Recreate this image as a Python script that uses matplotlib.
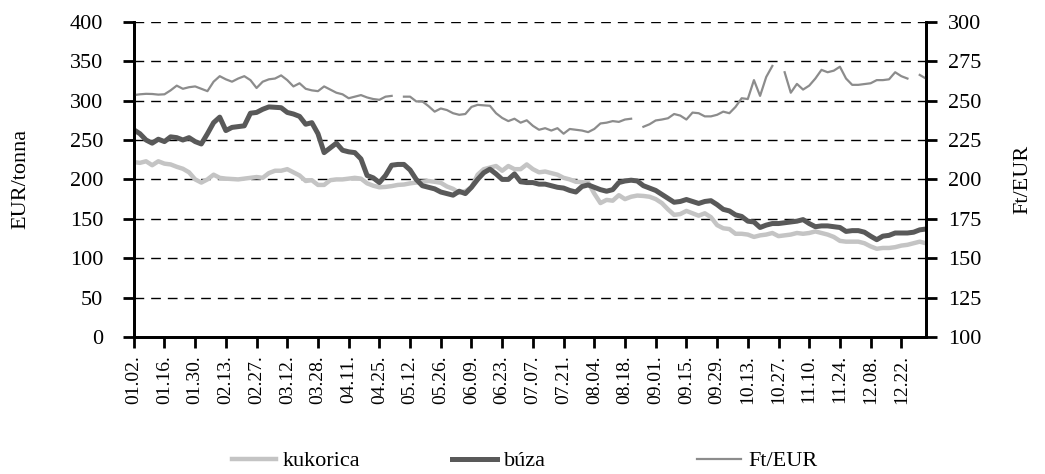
import numpy as np
import matplotlib.pyplot as plt

plt.rcParams['font.family'] = ['Liberation Serif', 'DejaVu Serif']

# tick labels every 10 trading days
tick_labels = ['01.02.', '01.16.', '01.30.', '02.13.', '02.27.', '03.12.', '03.28.',
               '04.11.', '04.25.', '05.12.', '05.26.', '06.09.', '06.23.', '07.07.',
               '07.21.', '08.04.', '08.18.', '09.01.', '09.15.', '09.29.', '10.13.',
               '10.27.', '11.10.', '11.24.', '12.08.', '12.22.']
n_days = 259

# EUR/tonna, read every 2nd trading day
kukorica = [222, 221, 223, 218, 223, 220, 219, 216, 213.5, 209,
            200, 196, 200, 206, 202, 201, 200.5, 200, 201, 202,
            203, 202, 208, 211, 211, 213, 209, 205, 198, 199,
            193, 193, 199, 200, 200, 201, 202, 201, 195, 192,
            190, 190.5, 191.5, 193, 193.5, 195, 196, 197, 198, 197,
            195.7, 191, 188, 183, 185, 190, 206, 213, 215, 217,
            211, 217, 213, 213, 219, 213, 209, 210, 208, 206,
            202, 200, 197, 196.5, 196, 182, 170, 174, 173, 180,
            175, 178, 179.5, 179, 178, 175, 170, 162, 155, 156,
            160, 157, 154, 157, 152, 142, 138, 137, 131, 131,
            130, 127, 129, 130, 132, 128, 129, 130, 132, 131,
            132, 134, 132, 130, 127, 122, 121, 121, 121, 119,
            115, 112, 113, 113, 114, 116, 117, 119, 121, 119]

buza = [263, 258, 250, 246, 251, 248, 254, 253, 250, 253,
        248, 245, 258, 272, 279, 262, 266, 267, 268, 284,
        285, 289, 292, 291.5, 291, 285, 283, 280, 270, 272,
        258, 234, 240, 246, 237, 235, 234, 226, 205, 202,
        196, 205, 218, 219, 219, 212, 200, 192, 190, 188,
        184, 182, 180, 185, 182, 190, 200, 208.5, 213, 207,
        200, 200, 207, 197, 196, 196, 194, 194, 192, 190,
        189, 186, 184, 191, 193, 190, 187, 185, 187, 196,
        198, 199, 198, 192, 189, 186, 181, 176, 171, 172,
        174.5, 172, 169.5, 172, 173, 168, 162, 160, 155, 153,
        147, 146, 139, 142, 144, 144, 145, 146, 147, 149,
        144, 140, 141, 141, 140, 139, 134, 135, 135, 133,
        128, 123.5, 128, 129, 132, 132, 132, 133, 136, 137]

# Ft/EUR (right axis), nan where the series has no quote
ft_eur = [253.5, 254, 254.3, 254.2, 253.8, 254, 256.5, 259.5, 257.5, 258.5,
          259, 257.5, 256, 262, 265.5, 263.5, 262, 264, 265.5, 263,
          258, 262, 263.5, 264, 266, 263, 259, 261, 257.5, 256.5,
          256, 259, 257, 255, 254, 251.5, 252.5, 253.5, 252, 251,
          250.5, 252.5, 253, np.nan, 252.5, 252.5, 249.5, 249.5, 246.5, 243,
          245, 244, 242, 241, 241.5, 246, 247.3, 247, 246.7, 242,
          239, 237, 238.5, 236, 237.5, 234, 231.5, 232.5, 231, 232.5,
          229, 232, 231.5, 231, 230, 232, 235.5, 236, 237, 236.5,
          238, 238.5, np.nan, 233.4, 235, 237.4, 238, 238.8, 241.5, 240.5,
          238, 242.4, 242, 240, 240, 241, 243, 242, 246, 251.5,
          251, 263, 253, 265, 272, np.nan, 268, 255, 260.6, 257,
          259.5, 264, 269.5, 268, 269, 271.5, 264, 260, 260, 260.5,
          261, 263, 263, 263.5, 268, 265.5, 264, np.nan, 266.3, 264]

x = np.arange(0, n_days, 2)

fig = plt.figure(figsize=(10.45, 4.74), dpi=100)
ax = fig.add_axes([0.128, 0.289, 0.758, 0.665])
ax2 = ax.twinx()

l1, = ax.plot(x, kukorica, color='#c4c4c4', lw=3.2, label='kukorica')
l2, = ax.plot(x, buza, color='#595959', lw=3.6, label='búza')
l3, = ax2.plot(x, ft_eur, color='#8c8c8c', lw=1.6, label='Ft/EUR')

ax.set_xlim(0, n_days - 1)
ax.set_ylim(0, 400)
ax.set_yticks(np.arange(0, 401, 50))
ax2.set_ylim(100, 300)
ax2.set_yticks(np.arange(100, 301, 25))

ax.set_xticks(np.arange(0, len(tick_labels) * 10, 10))
ax.set_xticklabels(tick_labels, rotation=90)

ax.yaxis.grid(True, color='black', linestyle=(0, (7, 5)), lw=1.0)
ax.set_axisbelow(True)

for a in (ax, ax2):
    a.spines['top'].set_visible(False)
    for s in ('left', 'right', 'bottom'):
        a.spines[s].set_linewidth(2)
    a.tick_params(axis='both', width=2, length=8, labelsize=16, direction='out')
ax.tick_params(axis='x', labelsize=14, pad=5)
ax.tick_params(axis='y', pad=14)
ax2.tick_params(axis='y', pad=8)

ax.set_ylabel('EUR/tonna', fontsize=16)
ax.yaxis.set_label_coords(-0.131, 0.5)
ax2.set_ylabel('Ft/EUR', fontsize=16)
ax2.yaxis.set_label_coords(1.111, 0.5)

# legend entries spread along the bottom
for h, xpos in zip([l1, l2, l3], [0.222, 0.433, 0.667]):
    fig.legend(handles=[h], loc='center left', bbox_to_anchor=(xpos, 0.027),
               frameon=False, fontsize=16, handlelength=2.0, handletextpad=0.3,
               borderpad=0, borderaxespad=0)

plt.savefig('out.png', dpi=100)
